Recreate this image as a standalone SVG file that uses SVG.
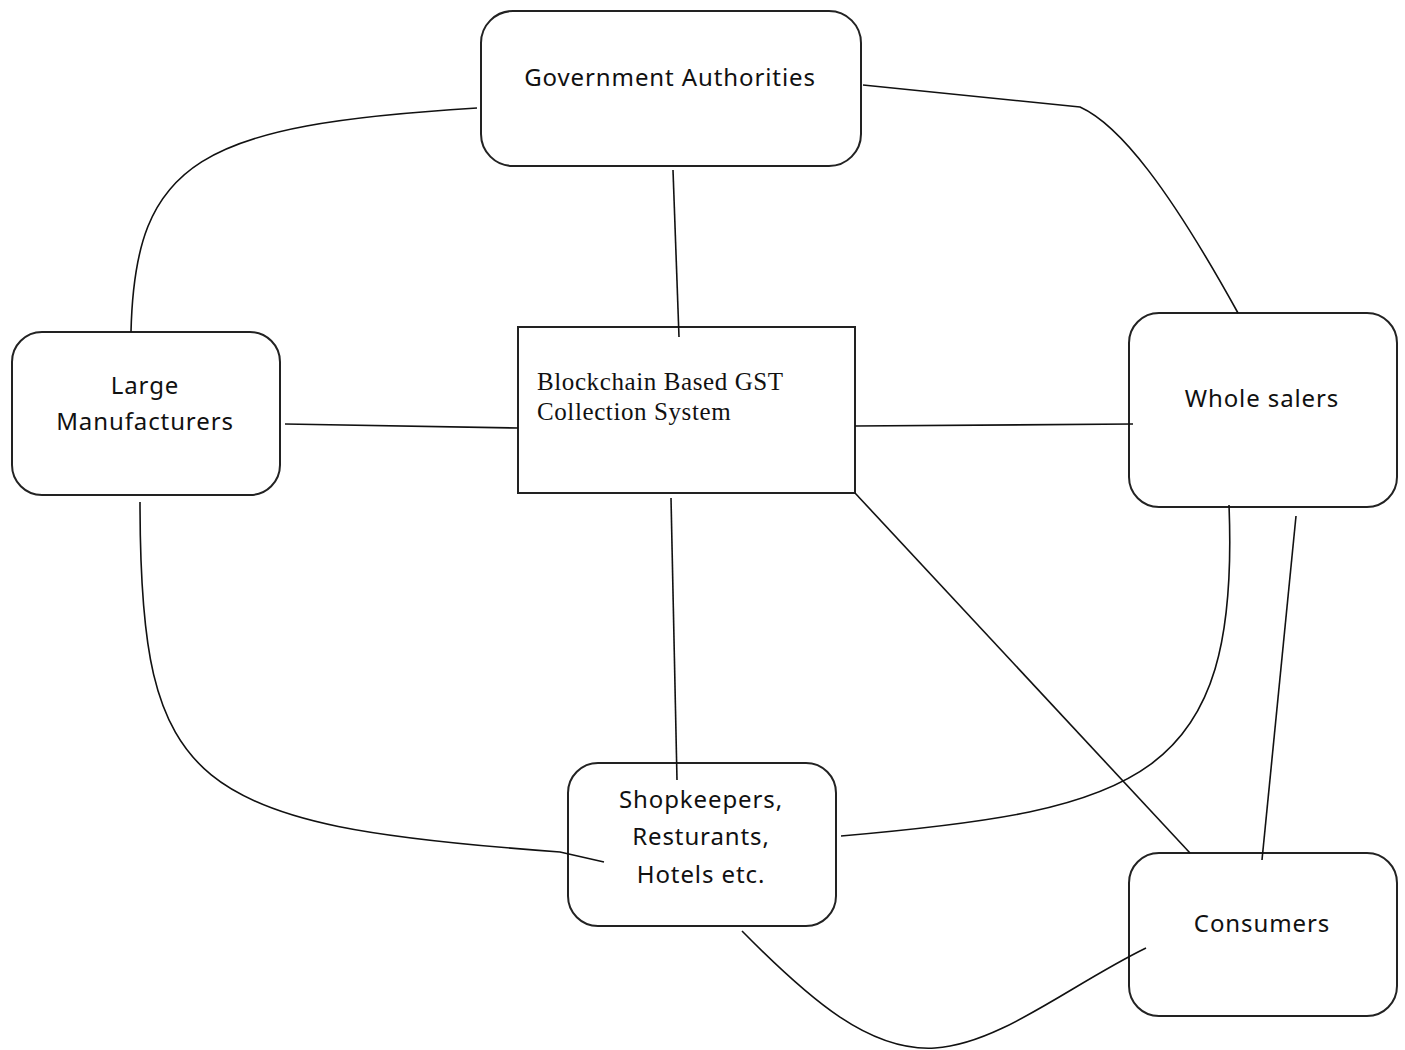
<svg xmlns="http://www.w3.org/2000/svg" width="1405" height="1050" viewBox="0 0 1405 1050">
<style>
.node{fill:#fff;stroke:#222;stroke-width:2}
.lbl{font-family:"Noto Sans","Open Sans",sans-serif;font-size:24px;letter-spacing:0.9px;fill:#111;text-anchor:middle}
.ser{font-family:"Liberation Serif","Times New Roman",serif;font-size:25px;letter-spacing:0.6px;fill:#111}
.conn path,.conn line{fill:none;stroke:#111;stroke-width:1.6}
</style>
<rect width="1405" height="1050" fill="#fff"/>
<g id="gov"><rect class="node" x="481" y="11" width="380" height="155" rx="32"/><text class="lbl" x="670" y="86">Government Authorities</text></g>
<g id="large"><rect class="node" x="12" y="332" width="268" height="163" rx="30"/><text class="lbl" x="145" y="394">Large</text><text class="lbl" x="145" y="430">Manufacturers</text></g>
<g id="blockchain"><rect class="node" x="518" y="327" width="337" height="166"/><text class="ser" x="537" y="390">Blockchain Based GST</text><text class="ser" x="537" y="420">Collection System</text></g>
<g id="whole"><rect class="node" x="1129" y="313" width="268" height="194" rx="30"/><text class="lbl" x="1262" y="407">Whole salers</text></g>
<g id="shop"><rect class="node" x="568" y="763" width="268" height="163" rx="30"/><text class="lbl" x="701" y="808">Shopkeepers,</text><text class="lbl" x="701" y="845">Resturants,</text><text class="lbl" x="701" y="883">Hotels etc.</text></g>
<g id="consumers"><rect class="node" x="1129" y="853" width="268" height="163" rx="30"/><text class="lbl" x="1262" y="932">Consumers</text></g>
<g class="conn" id="connectors">
<path d="M477,108 C200,125 135,160 131,332"/>
<path d="M863,85 L1080,107 C1120,125 1170,190 1238,313"/>
<line x1="673" y1="170" x2="679" y2="337"/>
<line x1="285" y1="424" x2="518" y2="428"/>
<line x1="855" y1="426" x2="1133" y2="424"/>
<line x1="671" y1="498" x2="677" y2="780"/>
<line x1="855" y1="493" x2="1190" y2="853"/>
<path d="M140,502 C140,790 190,825 560,852 L604,862"/>
<path d="M1229,505 C1240,780 1140,810 841,836"/>
<line x1="1296" y1="516" x2="1262" y2="860"/>
<path d="M742,931 C810,1000 870,1052 935,1048 C1000,1044 1070,985 1146,948"/>
</g>
</svg>
